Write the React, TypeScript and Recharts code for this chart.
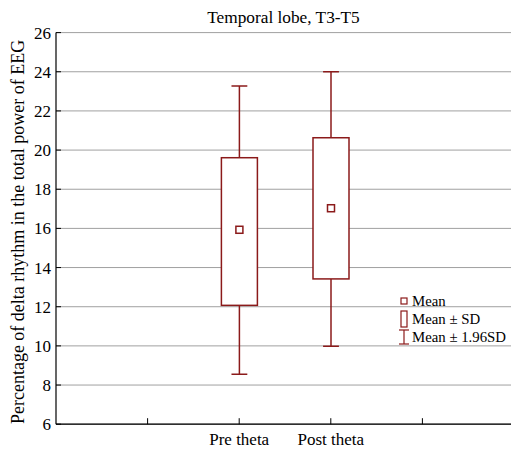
import React from 'react';
import { ComposedChart, Bar, XAxis, YAxis, CartesianGrid, Legend } from 'recharts';

const categories = ['Pre theta', 'Post theta'];
const positions = [2, 3];
const means = [15.93, 17.03];
const sdLow = [12.07, 13.42];
const sdHigh = [19.61, 20.63];
const ciLow = [8.55, 9.98];
const ciHigh = [23.27, 24.0];
const yTicks = [6, 8, 10, 12, 14, 16, 18, 20, 22, 24, 26];
const xTicks = [1, 2, 3, 4];
const title = 'Temporal lobe, T3-T5';
const yLabel = 'Percentage of delta rhythm in the total power of EEG';
const legendItems = ['Mean', 'Mean ± SD', 'Mean ± 1.96SD'];

const RED = '#8b1a1a';
const FONT = "'Liberation Serif', 'Times New Roman', serif";

const data = categories.map((name, i) => ({
  name,
  pos: positions[i],
  mean: means[i],
  sdLow: sdLow[i],
  sdHigh: sdHigh[i],
  ciLow: ciLow[i],
  ciHigh: ciHigh[i],
  range: [ciLow[i], ciHigh[i]],
}));

const BoxShape = (props: any) => {
  const { x, y, width, height, payload } = props;
  const lo = payload.ciLow;
  const hi = payload.ciHigh;
  const k = height / (hi - lo);
  const Y = (v: number) => y + (hi - v) * k;
  const cx = x + width / 2;
  const cap = width * 0.22;
  const m = 3.5;
  return (
    <g>
      <line x1={cx} x2={cx} y1={Y(hi)} y2={Y(payload.sdHigh)} stroke={RED} strokeWidth={1.5} />
      <line x1={cx} x2={cx} y1={Y(payload.sdLow)} y2={Y(lo)} stroke={RED} strokeWidth={1.5} />
      <line x1={cx - cap} x2={cx + cap} y1={Y(hi)} y2={Y(hi)} stroke={RED} strokeWidth={1.5} />
      <line x1={cx - cap} x2={cx + cap} y1={Y(lo)} y2={Y(lo)} stroke={RED} strokeWidth={1.5} />
      <rect
        x={x}
        y={Y(payload.sdHigh)}
        width={width}
        height={Y(payload.sdLow) - Y(payload.sdHigh)}
        fill="#fff"
        stroke={RED}
        strokeWidth={1.5}
      />
      <rect x={cx - m} y={Y(payload.mean) - m} width={2 * m} height={2 * m} fill="#fff" stroke={RED} strokeWidth={1.5} />
    </g>
  );
};

const LegendContent = () => (
  <div style={{ fontFamily: FONT, fontSize: 14.8, color: '#000' }}>
    {legendItems.map((t, i) => (
      <div key={t} style={{ display: 'flex', alignItems: 'center', height: 18, lineHeight: '18px' }}>
        <svg width={14} height={18} style={{ marginRight: 1 }}>
          {i === 0 && <rect x={4} y={6} width={6} height={6} fill="#fff" stroke={RED} strokeWidth={1.2} />}
          {i === 1 && <rect x={4} y={1} width={6} height={16} fill="#fff" stroke={RED} strokeWidth={1.2} />}
          {i === 2 && (
            <g stroke={RED} strokeWidth={1.2}>
              <line x1={7} x2={7} y1={2} y2={16} />
              <line x1={2} x2={12} y1={2} y2={2} />
              <line x1={2} x2={12} y1={16} y2={16} />
            </g>
          )}
        </svg>
        <span>{t}</span>
      </div>
    ))}
  </div>
);

const xLabel = (v: number) => {
  const i = positions.indexOf(v);
  return i >= 0 ? categories[i] : '';
};

export default function App() {
  return (
    <div style={{ position: 'absolute', left: 0, top: 0, width: 511, height: 452, background: '#fff', overflow: 'hidden' }}>
      <div
        style={{
          position: 'absolute',
          left: 56,
          width: 455,
          top: 8.75,
          textAlign: 'center',
          fontFamily: FONT,
          fontSize: 17.3,
          lineHeight: '17px',
          color: '#000',
        }}
      >
        {title}
      </div>
      <ComposedChart
        width={511}
        height={452}
        data={data}
        margin={{ top: 32.6, right: -3, bottom: 0, left: 0 }}
        style={{ fontFamily: FONT }}
      >
        <CartesianGrid horizontal vertical={false} stroke="#a0a0a0" strokeWidth={1} />
        <XAxis
          xAxisId="top"
          orientation="top"
          type="number"
          domain={[0, 5]}
          ticks={xTicks}
          allowDataOverflow
          height={0}
          tickSize={-6}
          tickFormatter={() => ''}
          axisLine={{ stroke: '#000', strokeWidth: 1.2 }}
          tickLine={{ stroke: '#000', strokeWidth: 1 }}
        />
        <XAxis
          dataKey="pos"
          type="number"
          domain={[0, 5]}
          ticks={xTicks}
          allowDataOverflow
          height={27.8}
          tickSize={-6}
          tickMargin={15}
          tickFormatter={xLabel}
          tick={{ fill: '#000', fontSize: 17, fontFamily: FONT }}
          axisLine={{ stroke: '#000', strokeWidth: 1.2 }}
          tickLine={{ stroke: '#000', strokeWidth: 1 }}
        />
        <YAxis
          type="number"
          domain={[6, 26]}
          ticks={yTicks}
          allowDataOverflow
          width={56}
          tickSize={-5}
          tickMargin={10}
          tick={{ fill: '#000', fontSize: 17, fontFamily: FONT }}
          axisLine={{ stroke: '#000', strokeWidth: 1.2 }}
          tickLine={{ stroke: '#000', strokeWidth: 1 }}
          label={{
            content: (p: any) => {
              const vb = p.viewBox || { y: 32.6, height: 391.6 };
              const cy = vb.y + vb.height / 2 + 3.5;
              return (
                <text
                  x={18}
                  y={cy}
                  transform={`rotate(-90, 18, ${cy})`}
                  textAnchor="middle"
                  dominantBaseline="central"
                  fontSize={18}
                  fontFamily={FONT}
                  fill="#000"
                >
                  {yLabel}
                </text>
              );
            },
          }}
        />
        <Bar dataKey="range" barSize={36} shape={<BoxShape />} isAnimationActive={false} />
        <Legend
          layout="vertical"
          align="center"
          verticalAlign="middle"
          content={<LegendContent />}
          wrapperStyle={{ position: 'absolute', left: 397, top: 292, width: 114 }}
        />
      </ComposedChart>
    </div>
  );
}
